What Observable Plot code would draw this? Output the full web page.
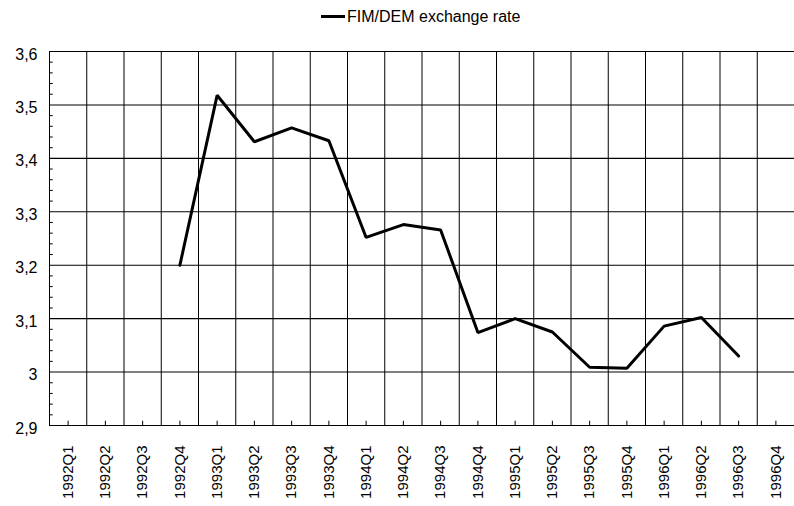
<!DOCTYPE html>
<html><head><meta charset="utf-8">
<script src="https://cdn.jsdelivr.net/npm/d3@7"></script>
<script src="https://cdn.jsdelivr.net/npm/@observablehq/plot@0.6"></script>
<style>
body{margin:0;background:#fff;font-family:"Liberation Sans",Arial,sans-serif;}
#legend{height:30px;position:relative;color:#000;}
#legend .sw{position:absolute;left:321px;top:15px;width:24px;height:3px;background:#000;}
#legend .tx{position:absolute;left:347px;top:8px;font-size:16px;line-height:18px;white-space:nowrap;}
#chart svg{display:block;}
</style></head><body>
<div id="legend"><span class="sw"></span><span class="tx">FIM/DEM exchange rate</span></div>
<div id="chart"></div>
<script>
const quarters = ["1992Q1","1992Q2","1992Q3","1992Q4","1993Q1","1993Q2","1993Q3","1993Q4",
  "1994Q1","1994Q2","1994Q3","1994Q4","1995Q1","1995Q2","1995Q3","1995Q4",
  "1996Q1","1996Q2","1996Q3","1996Q4"];
const rateQuarters = ["1992Q4","1993Q1","1993Q2","1993Q3","1993Q4","1994Q1","1994Q2","1994Q3",
  "1994Q4","1995Q1","1995Q2","1995Q3","1995Q4","1996Q1","1996Q2","1996Q3"];
const rateValues = [3.20,3.518,3.431,3.457,3.433,3.252,3.276,3.266,3.074,3.100,3.075,3.009,3.007,3.086,3.102,3.030];
const yTicks = [2.9,3.0,3.1,3.2,3.3,3.4,3.5,3.6];
const yMinorTicks = [2.92,2.94,2.96,2.98,3.02,3.04,3.06,3.08,3.12,3.14,3.16,3.18,3.22,3.24,3.26,3.28,
  3.32,3.34,3.36,3.38,3.42,3.44,3.46,3.48,3.52,3.54,3.56,3.58];

const data = rateQuarters.map((q, i) => ({q, v: rateValues[i]}));
const pos = q => quarters.indexOf(q) + 0.5;
const centers = quarters.map(q => pos(q));
const edges = quarters.map((q, i) => i).concat([quarters.length]);

const chart = Plot.plot({
  width: 794,
  height: 476,
  marginTop: 21,
  marginBottom: 81,
  marginLeft: 49,
  marginRight: 0,
  style: {fontFamily: '"Liberation Sans", Arial, sans-serif', color: "#000", background: "#fff"},
  x: {type: "linear", domain: [0, quarters.length]},
  y: {domain: [2.9, 3.6]},
  marks: [
    Plot.ruleY(yTicks, {stroke: "#000", strokeWidth: 1.1, strokeOpacity: 1}),
    Plot.ruleX(edges, {stroke: "#000", strokeWidth: 1, strokeOpacity: 1}),
    Plot.ruleY(yMinorTicks, {x1: 0, x2: 0.1, stroke: "#000", strokeWidth: 1}),
    Plot.ruleX(centers, {y1: 2.9, y2: 2.908, stroke: "#000", strokeWidth: 1}),
    Plot.line(data, {x: d => pos(d.q), y: "v", stroke: "#000", strokeWidth: 3, strokeLinejoin: "miter"}),
    Plot.axisY({ticks: yTicks, tickSize: 0, tickPadding: 12, fontSize: 16, dy: 3,
      tickFormat: d => String(+d.toFixed(1)).replace(".", ","), label: null}),
    Plot.axisX({ticks: centers, tickSize: 0, tickPadding: 20, tickRotate: -90, fontSize: 15,
      tickFormat: t => quarters[Math.floor(t)], label: null})
  ]
});
document.getElementById("chart").appendChild(chart);
</script>
</body></html>
